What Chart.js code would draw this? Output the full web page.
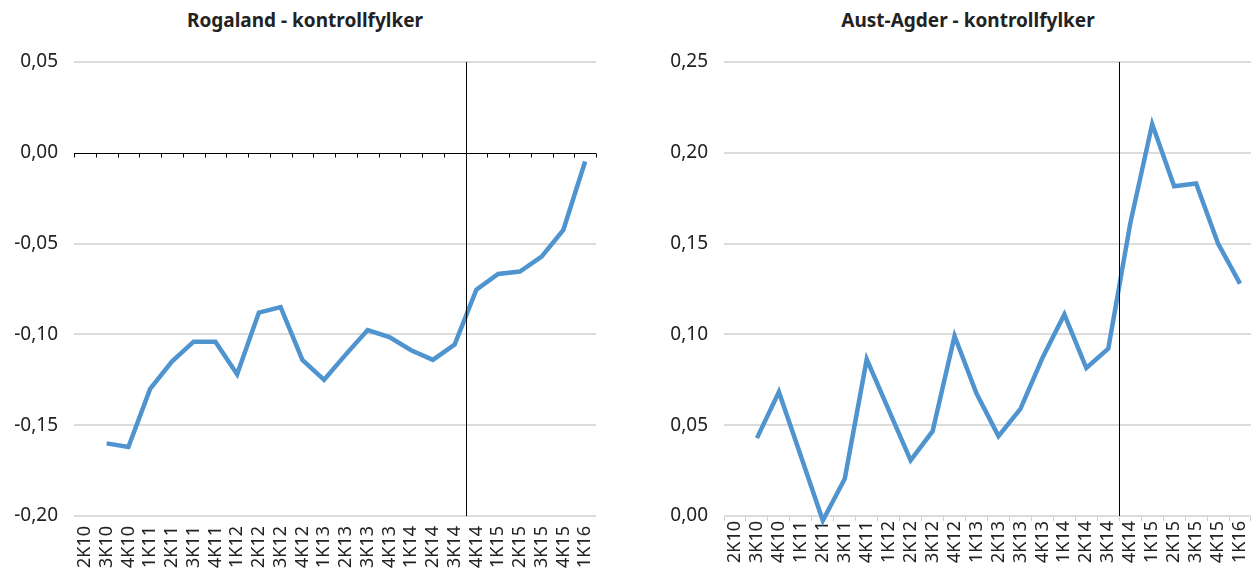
<!DOCTYPE html>
<html>
<head>
<meta charset="utf-8">
<script src="https://cdn.jsdelivr.net/npm/chart.js@4"></script>
<style>
  body { margin: 0; background: #fff; width: 1253px; height: 571px; overflow: hidden; position: relative; }
  .box { position: absolute; top: 0; height: 571px; }
  .title { position: absolute; top: 7px; font: bold 19px "Noto Sans", sans-serif; color: #222; white-space: nowrap; transform: translateX(-50%); }
</style>
</head>
<body>
<div class="title" style="left:305px">Rogaland - kontrollfylker</div>
<div class="title" style="left:968px">Aust-Agder - kontrollfylker</div>
<div class="box" style="left:0;width:610px"><canvas id="rogaland-chart"></canvas></div>
<div class="box" style="left:630px;width:623px"><canvas id="austagder-chart"></canvas></div>
<script>
// quarters on the x axis
const categories = ['2K10', '3K10', '4K10', '1K11', '2K11', '3K11', '4K11', '1K12', '2K12', '3K12', '4K12', '1K13',
    '2K13', '3K13', '4K13', '1K14', '2K14', '3K14', '4K14', '1K15', '2K15', '3K15', '4K15', '1K16'];

// Rogaland - kontrollfylker
const rogalandValues = [null, -0.160, -0.162, -0.130, -0.115, -0.104, -0.104, -0.122, -0.088, -0.085, -0.114, -0.125,
    -0.111, -0.0976, -0.1015, -0.1087, -0.114, -0.1056, -0.0754, -0.0667, -0.0654, -0.0572, -0.0424, -0.0048];

// Aust-Agder - kontrollfylker
const austAgderValues = [null, 0.0429, 0.0683, 0.033, -0.0025, 0.0205, 0.0863, 0.0584, 0.0306, 0.0467, 0.0991, 0.0674,
    0.044, 0.059, 0.087, 0.111, 0.0815, 0.0922, 0.161, 0.2158, 0.1816, 0.1831, 0.150, 0.128];

// y axis ranges [min, max, step]
const rogalandRange = [-0.20, 0.05, 0.05];
const austAgderRange = [0, 0.25, 0.05];

// vertical marker sits between 3K14 and 4K14
const breakLabel = '4K14';

const lineColor = '#4f94cf';
const fontFamily = '"Noto Sans", sans-serif';

// draws the vertical break line, and optionally a black zero axis with ticks
const markerPlugin = {
    id: 'markers',
    afterDatasetsDraw(chart, args, opts) {
        const { ctx, chartArea, scales: { x, y } } = chart;
        const idx = categories.indexOf(breakLabel);
        const half = (x.getPixelForValue(1) - x.getPixelForValue(0)) / 2;
        ctx.save();
        ctx.strokeStyle = '#000';
        ctx.lineWidth = 1;
        if (opts.zeroAxis) {
            const y0 = Math.round(y.getPixelForValue(0)) + 0.5;
            ctx.beginPath();
            ctx.moveTo(chartArea.left, y0);
            ctx.lineTo(chartArea.right, y0);
            for (let i = 0; i <= categories.length; i++) {
                const px = Math.round(x.getPixelForValue(i) - half) + 0.5;
                ctx.moveTo(px, y0);
                ctx.lineTo(px, y0 + 4);
            }
            ctx.stroke();
        }
        const bx = Math.round(x.getPixelForValue(idx) - half) + 0.5;
        ctx.beginPath();
        ctx.moveTo(bx, chartArea.top);
        ctx.lineTo(bx, chartArea.bottom);
        ctx.stroke();
        ctx.restore();
    }
};

function makeChart(canvasId, values, range, axisWidth, zeroAxis) {
    const ctx = document.getElementById(canvasId).getContext('2d');
    return new Chart(ctx, {
        type: 'line',
        data: {
            labels: categories,
            datasets: [{
                data: values,
                borderColor: lineColor,
                borderWidth: 4.5,
                pointRadius: 0,
                tension: 0,
                clip: false,
                spanGaps: false
            }]
        },
        options: {
            responsive: true,
            maintainAspectRatio: false,
            animation: false,
            layout: { padding: { top: 62, right: zeroAxis ? 14 : 2, bottom: 0, left: 0 } },
            plugins: {
                legend: { display: false },
                tooltip: { enabled: false },
                markers: { zeroAxis: zeroAxis }
            },
            scales: {
                x: {
                    offset: true,
                    grid: {
                        display: !zeroAxis,
                        drawOnChartArea: false,
                        drawTicks: true,
                        tickLength: 5,
                        color: '#d0d0d0',
                        offset: true
                    },
                    border: { display: false },
                    ticks: {
                        minRotation: 90,
                        maxRotation: 90,
                        autoSkip: false,
                        padding: zeroAxis ? 5 : 0,
                        color: '#222',
                        font: { family: fontFamily, size: 18 }
                    },
                    afterFit(scale) {
                        scale.height = 55;
                        scale.paddingLeft = 0;
                        scale.paddingRight = 0;
                    }
                },
                y: {
                    min: range[0],
                    max: range[1],
                    grid: {
                        color: (c) => (zeroAxis && c.tick && Math.abs(c.tick.value) < 1e-9) ? 'rgba(0,0,0,0)' : '#dcdcdc',
                        lineWidth: 2,
                        drawTicks: false
                    },
                    border: { display: false },
                    ticks: {
                        stepSize: range[2],
                        padding: 16,
                        color: '#222',
                        font: { family: fontFamily, size: 19 },
                        callback: (v) => v.toFixed(2).replace('.', ',')
                    },
                    afterFit(scale) { scale.width = axisWidth; }
                }
            }
        },
        plugins: [markerPlugin]
    });
}

makeChart('rogaland-chart', rogalandValues, rogalandRange, 74, true);
makeChart('austagder-chart', austAgderValues, austAgderRange, 94, false);
</script>
</body>
</html>
